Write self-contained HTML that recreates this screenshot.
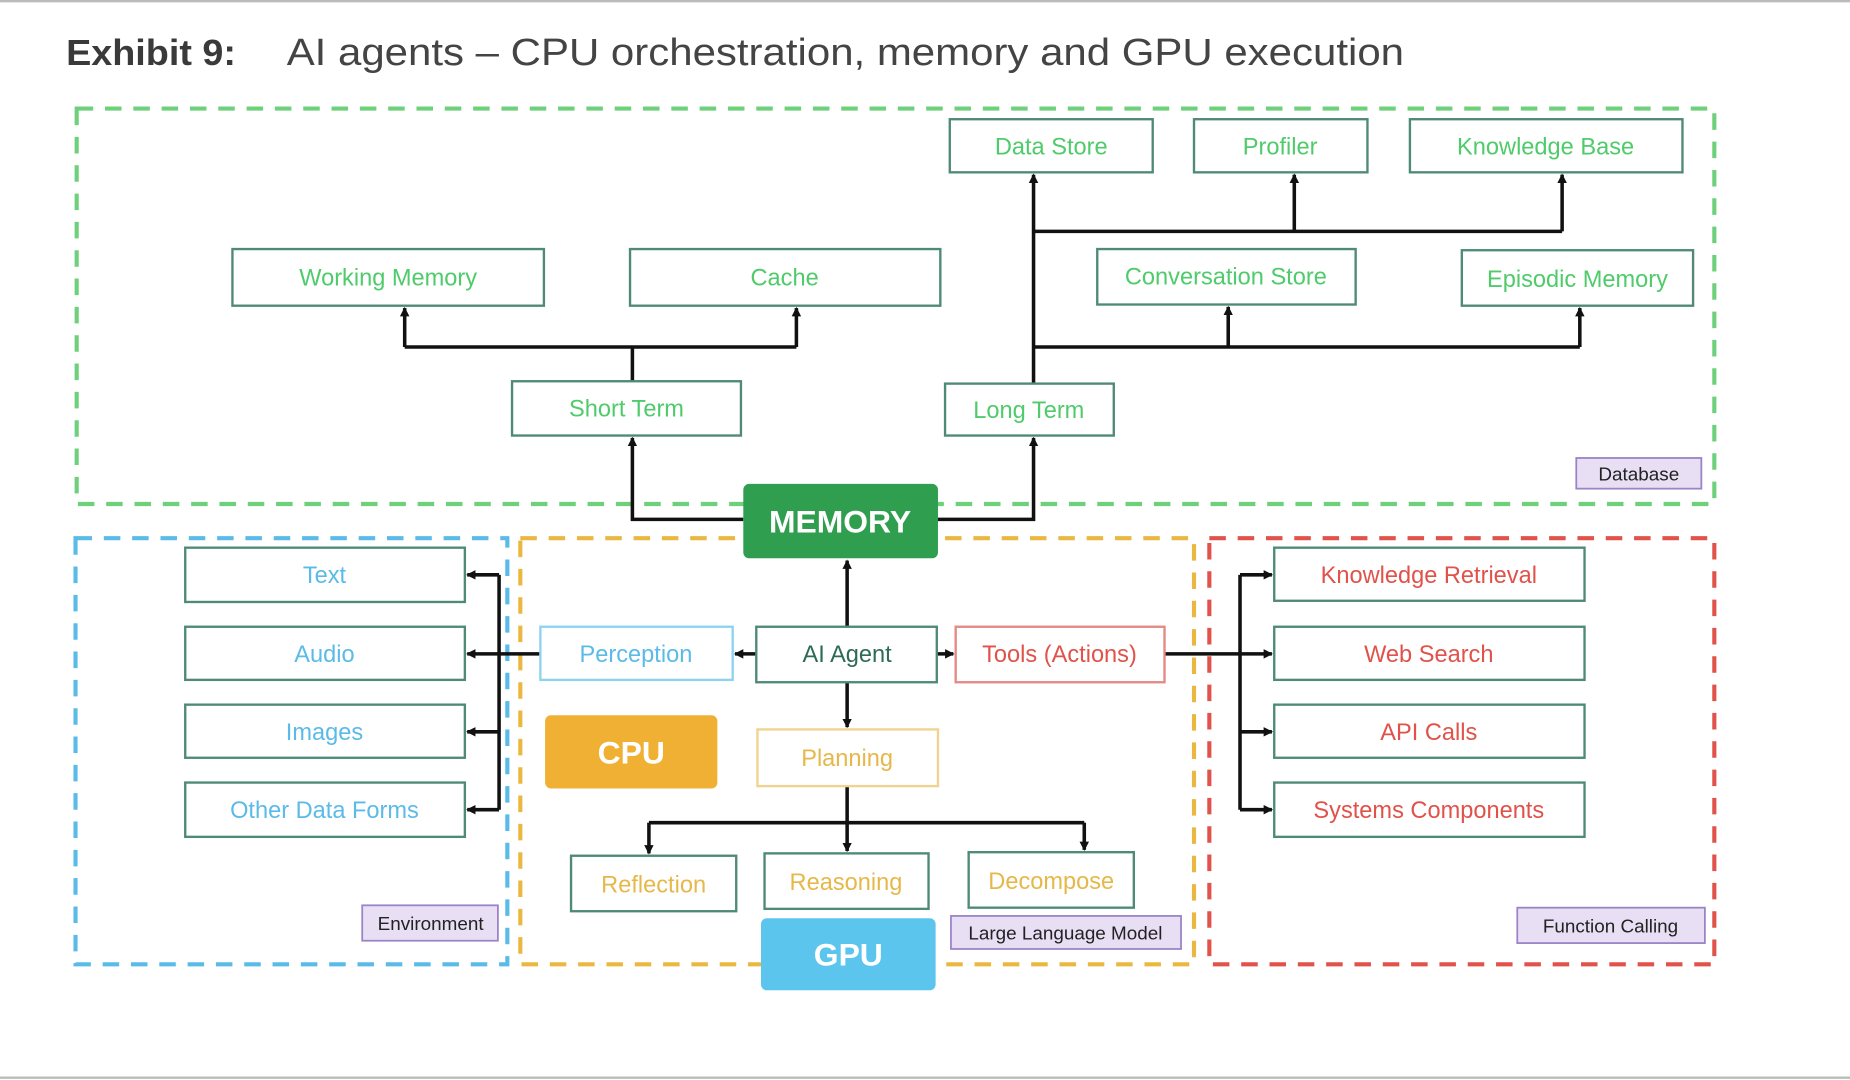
<!DOCTYPE html>
<html><head><meta charset="utf-8"><style>
html,body{margin:0;padding:0;background:#fff;}
svg{display:block;}
text{font-family:"Liberation Sans",sans-serif;}
</style></head><body>
<svg width="1850" height="1080" viewBox="0 0 1568 915" preserveAspectRatio="none" xmlns="http://www.w3.org/2000/svg">
<defs>
<marker id="a" markerWidth="8" markerHeight="8" refX="7" refY="4" orient="auto" markerUnits="userSpaceOnUse">
<path d="M0,0 L8,4 L0,8 z" fill="#111"/></marker>
</defs>
<rect width="1568" height="915" fill="#fff"/>
<line x1="0" y1="1" x2="1568" y2="1" stroke="#bbb" stroke-width="2"/>
<line x1="0" y1="913" x2="1568" y2="913" stroke="#bbb" stroke-width="2"/>
<text x="56" y="55" font-size="31" font-weight="bold" fill="#3a3a3a" textLength="144" lengthAdjust="spacingAndGlyphs">Exhibit 9:</text>
<text x="243" y="55" font-size="32" fill="#444" textLength="947" lengthAdjust="spacingAndGlyphs">AI agents – CPU orchestration, memory and GPU execution</text>

<g fill="none" stroke-width="3.5" stroke-dasharray="14,10">
<rect x="65" y="92" width="1388" height="335" stroke="#6fd07c"/>
<rect x="64" y="456" width="366" height="361" stroke="#5bbbe8"/>
<rect x="441" y="456" width="571" height="361" stroke="#eab840"/>
<rect x="1025" y="456" width="428" height="361" stroke="#e0524a"/>
</g>

<!-- connectors -->
<g stroke="#111" stroke-width="3" fill="none">
<polyline points="630,440 536,440 536,371" marker-end="url(#a)"/>
<line x1="536" y1="323" x2="536" y2="294"/>
<polyline points="343,294 675,294"/>
<line x1="343" y1="294" x2="343" y2="261" marker-end="url(#a)"/>
<line x1="675" y1="294" x2="675" y2="261" marker-end="url(#a)"/>
<polyline points="795,440 876,440 876,371" marker-end="url(#a)"/>
<line x1="876" y1="325" x2="876" y2="148" marker-end="url(#a)"/>
<polyline points="876,196 1324,196"/>
<line x1="1097" y1="196" x2="1097" y2="148" marker-end="url(#a)"/>
<line x1="1324" y1="196" x2="1324" y2="148" marker-end="url(#a)"/>
<polyline points="876,294 1339,294"/>
<line x1="1041" y1="294" x2="1041" y2="260" marker-end="url(#a)"/>
<line x1="1339" y1="294" x2="1339" y2="261" marker-end="url(#a)"/>
<line x1="718" y1="531" x2="718" y2="475" marker-end="url(#a)"/>
<line x1="641" y1="554" x2="623" y2="554" marker-end="url(#a)"/>
<line x1="458" y1="554" x2="423" y2="554"/>
<line x1="423" y1="487" x2="423" y2="686"/>
<line x1="423" y1="487" x2="396" y2="487" marker-end="url(#a)"/>
<line x1="423" y1="554" x2="396" y2="554" marker-end="url(#a)"/>
<line x1="423" y1="620" x2="396" y2="620" marker-end="url(#a)"/>
<line x1="423" y1="686" x2="396" y2="686" marker-end="url(#a)"/>
<line x1="794" y1="554" x2="808" y2="554" marker-end="url(#a)"/>
<line x1="987" y1="554" x2="1051" y2="554"/>
<line x1="1051" y1="487" x2="1051" y2="686"/>
<line x1="1051" y1="487" x2="1078" y2="487" marker-end="url(#a)"/>
<line x1="1051" y1="554" x2="1078" y2="554" marker-end="url(#a)"/>
<line x1="1051" y1="620" x2="1078" y2="620" marker-end="url(#a)"/>
<line x1="1051" y1="686" x2="1078" y2="686" marker-end="url(#a)"/>
<line x1="718" y1="578" x2="718" y2="616" marker-end="url(#a)"/>
<line x1="718" y1="666" x2="718" y2="721" marker-end="url(#a)"/>
<polyline points="550,697 919,697"/>
<line x1="550" y1="697" x2="550" y2="723" marker-end="url(#a)"/>
<line x1="919" y1="697" x2="919" y2="720" marker-end="url(#a)"/>
</g>

<!-- boxes -->
<g stroke="#4f8a78" stroke-width="2" fill="#fff">
<rect x="805" y="101" width="172" height="45"/>
<rect x="1012" y="101" width="147" height="45"/>
<rect x="1195" y="101" width="231" height="45"/>
<rect x="197" y="211" width="264" height="48"/>
<rect x="534" y="211" width="263" height="48"/>
<rect x="930" y="211" width="219" height="47"/>
<rect x="1239" y="212" width="196" height="47"/>
<rect x="434" y="323" width="194" height="46"/>
<rect x="801" y="325" width="143" height="44"/>
<rect x="157" y="464" width="237" height="46"/>
<rect x="157" y="531" width="237" height="45"/>
<rect x="157" y="597" width="237" height="45"/>
<rect x="157" y="663" width="237" height="46"/>
<rect x="641" y="531" width="153" height="47"/>
<rect x="484" y="725" width="140" height="47"/>
<rect x="648" y="723" width="139" height="47"/>
<rect x="821" y="722" width="140" height="47"/>
<rect x="1080" y="464" width="263" height="45"/>
<rect x="1080" y="531" width="263" height="45"/>
<rect x="1080" y="597" width="263" height="45"/>
<rect x="1080" y="663" width="263" height="46"/>
</g>
<rect x="458" y="531" width="163" height="45" fill="#fff" stroke="#8fd3f0" stroke-width="2"/>
<rect x="810" y="531" width="177" height="47" fill="#fff" stroke="#e48a84" stroke-width="2"/>
<rect x="642" y="618" width="153" height="48" fill="#fff" stroke="#efd38f" stroke-width="2"/>

<rect x="630" y="410" width="165" height="63" rx="5" fill="#2f9e4f"/>
<rect x="462" y="606" width="146" height="62" rx="5" fill="#f0b033"/>
<rect x="645" y="778" width="148" height="61" rx="5" fill="#5bc5ee"/>

<g fill="#e8dff5" stroke="#9a83c6" stroke-width="1.5">
<rect x="1336" y="388" width="106" height="26"/>
<rect x="307" y="767" width="115" height="30"/>
<rect x="806" y="776" width="195" height="28"/>
<rect x="1286" y="769" width="159" height="30"/>
</g>

<g font-size="20" text-anchor="middle">
<g fill="#4fcb6b">
<text x="891" y="131">Data Store</text>
<text x="1085" y="131">Profiler</text>
<text x="1310" y="131">Knowledge Base</text>
<text x="329" y="242">Working Memory</text>
<text x="665" y="242">Cache</text>
<text x="1039" y="241">Conversation Store</text>
<text x="1337" y="243">Episodic Memory</text>
<text x="531" y="353">Short Term</text>
<text x="872" y="354">Long Term</text>
</g>
<g fill="#5bbbe8">
<text x="275" y="494">Text</text>
<text x="275" y="561">Audio</text>
<text x="275" y="627">Images</text>
<text x="275" y="693">Other Data Forms</text>
<text x="539" y="561">Perception</text>
</g>
<text x="718" y="561" fill="#2e6b55">AI Agent</text>
<g fill="#e0524a">
<text x="898" y="561">Tools (Actions)</text>
<text x="1211" y="494">Knowledge Retrieval</text>
<text x="1211" y="561">Web Search</text>
<text x="1211" y="627">API Calls</text>
<text x="1211" y="693">Systems Components</text>
</g>
<g fill="#e6b84a">
<text x="718" y="649">Planning</text>
<text x="554" y="756">Reflection</text>
<text x="717" y="754">Reasoning</text>
<text x="891" y="753">Decompose</text>
</g>
</g>
<g font-size="27" font-weight="bold" fill="#fff" text-anchor="middle">
<text x="712" y="451">MEMORY</text>
<text x="535" y="647">CPU</text>
<text x="719" y="818">GPU</text>
</g>
<g font-size="16" fill="#222" text-anchor="middle">
<text x="1389" y="407">Database</text>
<text x="365" y="788">Environment</text>
<text x="903" y="796">Large Language Model</text>
<text x="1365" y="790">Function Calling</text>
</g>
</svg>
</body></html>
